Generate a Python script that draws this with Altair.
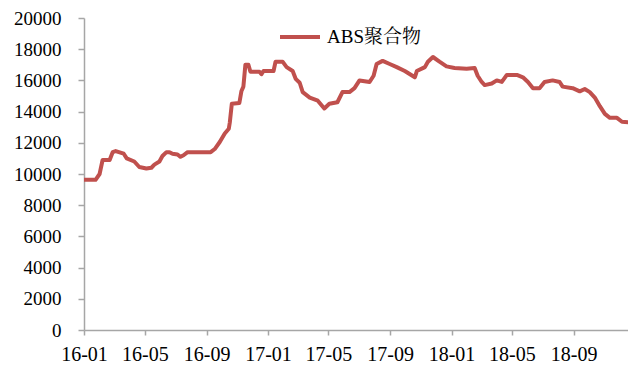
import altair as alt
import pandas as pd

series_name = "ABS聚合物"

dates = [
    "2016-01-01", "2016-01-24", "2016-02-01", "2016-02-07", "2016-02-21", "2016-02-27",
    "2016-03-04", "2016-03-20", "2016-03-26", "2016-04-10", "2016-04-20", "2016-05-04",
    "2016-05-14", "2016-05-20", "2016-05-30", "2016-06-05", "2016-06-13", "2016-06-19",
    "2016-06-25", "2016-07-05", "2016-07-11", "2016-07-17", "2016-07-25", "2016-09-09",
    "2016-09-17", "2016-09-27", "2016-10-07", "2016-10-15", "2016-10-17", "2016-10-21",
    "2016-11-05", "2016-11-09", "2016-11-13", "2016-11-17", "2016-11-23", "2016-11-27",
    "2016-12-15", "2016-12-19", "2016-12-23", "2017-01-12", "2017-01-16", "2017-01-30",
    "2017-02-07", "2017-02-19", "2017-02-25", "2017-03-05", "2017-03-11", "2017-03-25",
    "2017-04-10", "2017-04-23", "2017-05-03", "2017-05-19", "2017-05-29", "2017-06-12",
    "2017-06-22", "2017-07-02", "2017-07-22", "2017-07-30", "2017-08-05", "2017-08-17",
    "2017-08-31", "2017-09-14", "2017-09-30", "2017-10-20", "2017-10-24", "2017-11-09",
    "2017-11-15", "2017-11-25", "2017-12-08", "2017-12-22", "2018-01-07", "2018-01-31",
    "2018-02-16", "2018-02-22", "2018-03-02", "2018-03-08", "2018-03-22", "2018-04-01",
    "2018-04-11", "2018-04-21", "2018-05-11", "2018-05-23", "2018-06-02", "2018-06-12",
    "2018-06-25", "2018-07-05", "2018-07-21", "2018-08-04", "2018-08-10", "2018-08-30",
    "2018-09-13", "2018-09-23", "2018-10-03", "2018-10-13", "2018-10-23", "2018-11-02",
    "2018-11-12", "2018-11-26", "2018-12-06", "2018-12-30",
]

prices = [
    9630, 9630, 10000, 10900, 10900, 11400,
    11470, 11300, 11000, 10800, 10450, 10350,
    10400, 10600, 10800, 11150, 11400, 11400,
    11300, 11250, 11100, 11200, 11400, 11400,
    11600, 12050, 12600, 12900, 13300, 14500,
    14550, 15300, 15600, 17000, 17000, 16550,
    16550, 16400, 16600, 16600, 17200, 17200,
    16850, 16600, 16100, 15850, 15250, 14900,
    14700, 14200, 14500, 14600, 15250, 15250,
    15500, 16000, 15900, 16300, 17050, 17250,
    17050, 16850, 16600, 16200, 16600, 16850,
    17200, 17500, 17200, 16900, 16800, 16750,
    16800, 16300, 15900, 15700, 15800, 16000,
    15900, 16350, 16350, 16200, 15900, 15500,
    15500, 15900, 16000, 15900, 15600, 15500,
    15300, 15450, 15250, 14900, 14350, 13850,
    13600, 13600, 13350, 13300,
]

y_ticks = [0, 2000, 4000, 6000, 8000, 10000, 12000, 14000, 16000, 18000, 20000]
x_tick_months = [(2016, 1), (2016, 5), (2016, 9), (2017, 1), (2017, 5), (2017, 9),
                 (2018, 1), (2018, 5), (2018, 9)]

df = pd.DataFrame({"date": dates, "price": prices, "series": [series_name] * len(dates)})

serif = "'Liberation Serif', 'Times New Roman', 'Noto Serif CJK SC', 'Noto Sans CJK SC', serif"
axis_gray = "#A6A6A6"

x_values = [alt.DateTime(year=y, month=m, date=1, utc=True) for y, m in x_tick_months]

chart = alt.Chart(df).mark_line(
    strokeWidth=4, strokeJoin="round", strokeCap="round", clip=True
).encode(
    x=alt.X(
        "date:T",
        scale=alt.Scale(
            type="utc",
            domain=[alt.DateTime(year=2016, month=1, date=1, utc=True),
                    alt.DateTime(year=2018, month=12, date=18, utc=True)],
        ),
        axis=alt.Axis(
            values=x_values, labelExpr="utcFormat(datum.value, '%y-%m')", title=None,
            grid=False, domainColor=axis_gray, domainWidth=1.5,
            tickColor=axis_gray, tickSize=5, tickWidth=1.5,
            labelFont=serif, labelFontSize=20, labelColor="#000000",
            labelPadding=9, labelFlush=False, labelOverlap=False,
        ),
    ),
    y=alt.Y(
        "price:Q",
        scale=alt.Scale(domain=[0, 20000], nice=False),
        axis=alt.Axis(
            values=y_ticks, format="d", title=None, grid=False,
            domainColor=axis_gray, domainWidth=1.5,
            tickColor=axis_gray, tickSize=6, tickWidth=1.5,
            labelFont=serif, labelFontSize=19, labelColor="#000000",
            labelPadding=17,
        ),
    ),
    color=alt.Color(
        "series:N",
        scale=alt.Scale(domain=[series_name], range=["#C0504D"]),
        legend=alt.Legend(
            title=None, orient="none", legendX=194, legendY=-3,
            symbolType="stroke", symbolSize=1600, symbolStrokeWidth=4,
            labelFont=serif, labelFontSize=19, labelColor="#000000",
            labelOffset=5, padding=0,
        ),
    ),
).properties(
    width=544,
    height=312,
    padding={"left": 76, "top": 10, "right": 0, "bottom": 40},
    autosize=alt.AutoSizeParams(type="none"),
).configure_view(stroke=None)

chart.save("out.html", embed_options={"renderer": "svg", "actions": False})
